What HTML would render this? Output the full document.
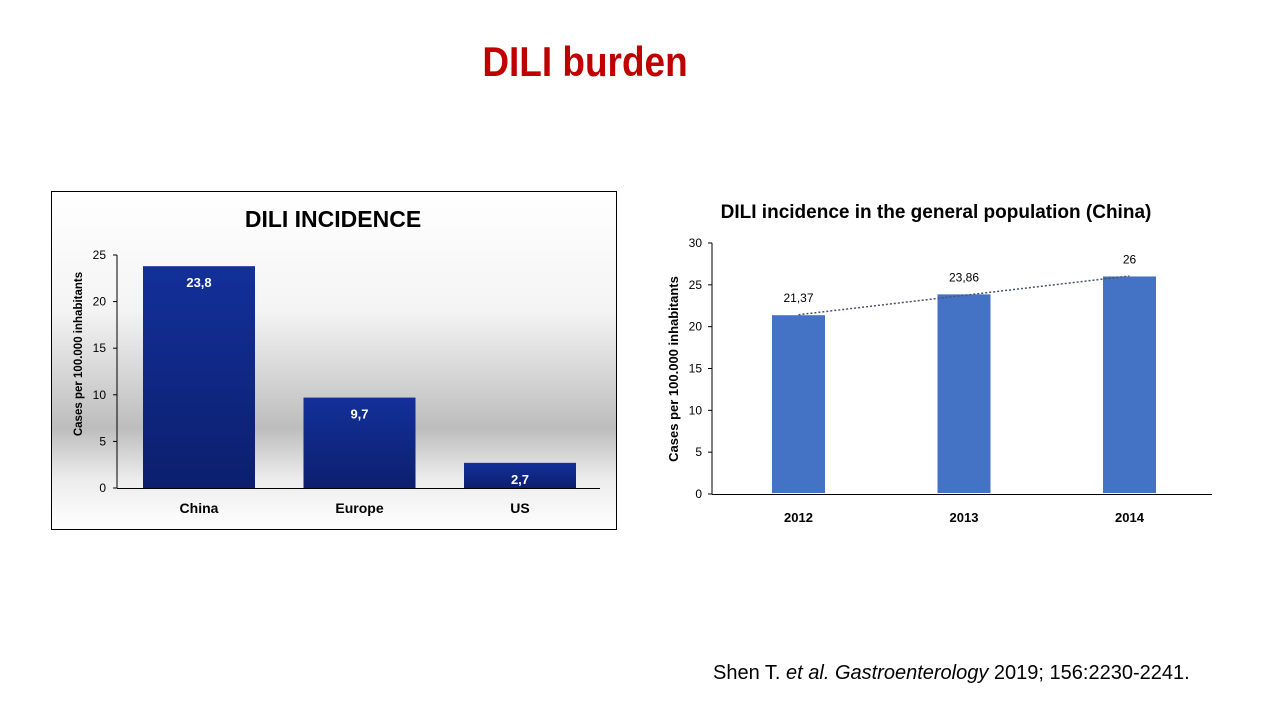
<!DOCTYPE html>
<html><head><meta charset="utf-8"><style>
body{margin:0;width:1280px;height:720px;background:#fff;position:relative;overflow:hidden;font-family:"Liberation Sans",sans-serif}
#title{position:absolute;left:0;width:1170px;top:38px;text-align:center;color:#c00000;font-weight:bold;font-size:42px;transform:scaleX(0.88);transform-origin:585px 0}
#cite{position:absolute;left:713px;top:662px;font-size:20px;color:#000}
svg{position:absolute;left:0;top:0}
</style></head><body>
<div id="title">DILI burden</div>
<svg width="1280" height="720" id="chart">
<defs><linearGradient id="bg" x1="0" y1="0" x2="0" y2="1">
<stop offset="0" stop-color="#fff"/><stop offset="0.35" stop-color="#f4f4f4"/><stop offset="0.7" stop-color="#bdbdbd"/><stop offset="0.85" stop-color="#ececec"/><stop offset="1" stop-color="#fff"/></linearGradient>
<linearGradient id="bar" x1="0" y1="0" x2="0" y2="1"><stop offset="0" stop-color="#13309a"/><stop offset="1" stop-color="#0c1f6e"/></linearGradient></defs>
<rect x="51.5" y="191.5" width="565" height="338" fill="url(#bg)" stroke="#000"/>
<text x="333" y="227" text-anchor="middle" font-weight="bold" font-size="23" font-family="Liberation Sans">DILI INCIDENCE</text>
<g id="left"></g><g id="right"></g>
<text x="936" y="218" text-anchor="middle" font-weight="bold" font-size="19" font-family="Liberation Sans">DILI incidence in the general population (China)</text>
</svg>
<div id="cite">Shen T. <i>et al. Gastroenterology</i> 2019; 156:2230-2241.</div>
<script>
const leftCats=["China","Europe","US"];
const leftVals=[23.8,9.7,2.7];
const leftLabels=["23,8","9,7","2,7"];
const leftTicks=[0,5,10,15,20,25];
const rightCats=["2012","2013","2014"];
const rightVals=[21.37,23.86,26];
const rightLabels=["21,37","23,86","26"];
const rightTicks=[0,5,10,15,20,25,30];
const NS="http://www.w3.org/2000/svg";
function mk(p,t,a,txt){const e=document.createElementNS(NS,t);for(const k in a)e.setAttribute(k,a[k]);if(txt!=null)e.textContent=txt;p.appendChild(e);return e;}
// left
const L=document.getElementById('left');
const ly=v=>488-v*(233/25);
const lx=i=>199+i*160.5;
mk(L,'line',{x1:117,y1:ly(25),x2:117,y2:488,stroke:'#000'});
mk(L,'line',{x1:117,y1:488.5,x2:600,y2:488.5,stroke:'#000'});
leftTicks.forEach(t=>{mk(L,'line',{x1:113,y1:ly(t),x2:117,y2:ly(t),stroke:'#000'});
const tt=mk(L,'text',{x:106,y:ly(t)+4,'text-anchor':'end','font-size':12,'font-family':'Liberation Sans'},String(t));
});
leftVals.forEach((v,i)=>{const b=mk(L,'rect',{x:lx(i)-56,y:ly(v),width:112,height:488-ly(v),fill:'url(#bar)'});

const t=mk(L,'text',{x:lx(i),y:ly(v)+21,'text-anchor':'middle',fill:'#fff','font-weight':'bold','font-size':13,'font-family':'Liberation Sans'},leftLabels[i]);

const c=mk(L,'text',{x:lx(i),y:513,'text-anchor':'middle','font-weight':'bold','font-size':14,'font-family':'Liberation Sans'},leftCats[i]);
});
const lt=mk(L,'text',{x:0,y:0,transform:'translate(82,354) rotate(-90)','text-anchor':'middle','font-weight':'bold','font-size':11.5,'font-family':'Liberation Sans'},'Cases per 100.000 inhabitants');

// right
const R=document.getElementById('right');
const ry=v=>494-v*(251/30);
const rx=i=>798.5+i*165.5;
mk(R,'line',{x1:712,y1:ry(30),x2:712,y2:494,stroke:'#000'});
mk(R,'line',{x1:712,y1:494.5,x2:1212,y2:494.5,stroke:'#000'});
rightTicks.forEach(t=>{mk(R,'line',{x1:708,y1:ry(t),x2:712,y2:ry(t),stroke:'#000'});
const tt=mk(R,'text',{x:702,y:ry(t)+4,'text-anchor':'end','font-size':12,'font-family':'Liberation Sans'},String(t));
});
rightVals.forEach((v,i)=>{const b=mk(R,'rect',{x:rx(i)-26.5,y:ry(v),width:53,height:494-ry(v)-1,fill:'#4472c4'});

const t=mk(R,'text',{x:rx(i),y:ry(v)-13,'text-anchor':'middle','font-size':12,'font-family':'Liberation Sans'},rightLabels[i]);

const c=mk(R,'text',{x:rx(i),y:522,'text-anchor':'middle','font-weight':'bold','font-size':13,'font-family':'Liberation Sans'},rightCats[i]);
});
// linear trendline
const n=rightVals.length,mx=(n-1)/2,my=rightVals.reduce((a,b)=>a+b)/n;
let num=0,den=0;rightVals.forEach((v,i)=>{num+=(i-mx)*(v-my);den+=(i-mx)*(i-mx);});
const s=num/den,b0=my-s*mx;
const tl=mk(R,'line',{x1:rx(0),y1:ry(b0),x2:rx(n-1),y2:ry(b0+s*(n-1)),stroke:'#44546a','stroke-width':1.5,'stroke-dasharray':'2,2'});

const rt=mk(R,'text',{x:0,y:0,transform:'translate(678,369) rotate(-90)','text-anchor':'middle','font-weight':'bold','font-size':13,'font-family':'Liberation Sans'},'Cases per 100.000 inhabitants');

</script>
</body></html>
